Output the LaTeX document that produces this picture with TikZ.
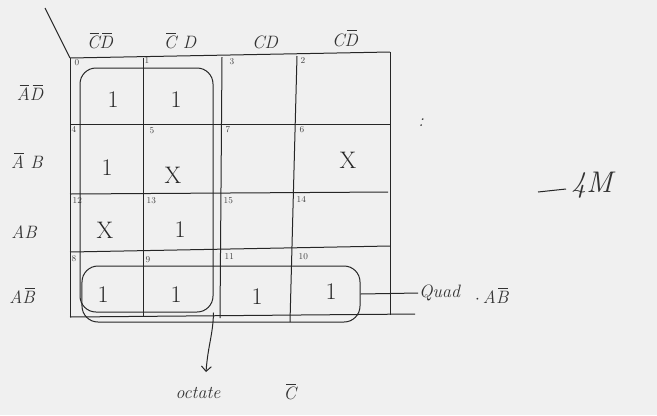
\documentclass[tikz,border=0pt]{standalone}
\usetikzlibrary{arrows.meta}
\newcommand\ob[1]{\ooalign{#1\cr\hidewidth\kern0.12em\rule[0.82em]{0.55em}{0.055em}\hidewidth\cr}}
\begin{document}
\begin{tikzpicture}[x=1bp,y=-1bp,
  pen/.style={draw=black!85, line width=1bp},
  val/.style={font=\fontsize{24}{24}\selectfont, text=black!85, inner sep=1bp},
  idx/.style={font=\fontsize{9}{9}\selectfont, text=black!75, anchor=north west, inner sep=0.5bp},
  lbl/.style={font=\fontsize{18}{18}\selectfont\itshape, text=black!80, inner sep=1bp},
  loopbox/.style={pen, rounded corners=16bp, inner sep=0pt}]
\useasboundingbox[fill=black!6] (0,0) rectangle (657,415);
% grid
\draw[pen] (45,8) -- (70,58);
\draw[pen] (70,58) -- (390,52);
\draw[pen] (70,124) -- (390,124);
\draw[pen] (70,194) -- (388,192);
\draw[pen] (70,252) -- (390,246);
\draw[pen] (70,317) -- (415,314);
\draw[pen] (70,58) -- (70,317);
\draw[pen] (143,58) -- (143,316);
\draw[pen] (222,57) -- (220,318);
\draw[pen] (297,56) -- (290,322);
\draw[pen] (390,52) -- (390,315);
% headers
\node[lbl] (h0) at (100,42) {\ob{C}\ob{D}};
\node[lbl] (h1) at (180,42) {\ob{C} D};
\node[lbl] (h2) at (265,42) {CD};
\node[lbl] (h3) at (345,40) {C\ob{D}};
\node[lbl] (r0) at (30,94) {\ob{A}\ob{D}};
\node[lbl] (r1) at (27,162) {\ob{A} B};
\node[lbl] (r2) at (24,232) {AB};
\node[lbl] (r3) at (22,297) {A\ob{B}};
% cell indices
\node[idx] (i0) at (74,59) {0};
\node[idx] (i1) at (144,57) {1};
\node[idx] (i3) at (229,58) {3};
\node[idx] (i2) at (300,57) {2};
\node[idx] (i4) at (71,126) {4};
\node[idx] (i5) at (149,127) {5};
\node[idx] (i7) at (225,126) {7};
\node[idx] (i6) at (299,126) {6};
\node[idx] (i12) at (72,197) {12};
\node[idx] (i13) at (146,197) {13};
\node[idx] (i15) at (223,197) {15};
\node[idx] (i14) at (296,196) {14};
\node[idx] (i8) at (71,255) {8};
\node[idx] (i9) at (145,256) {9};
\node[idx] (i11) at (224,253) {11};
\node[idx] (i10) at (298,253) {10};
% values
\node[val] (v0) at (113,100) {1};
\node[val] (v1) at (176,100) {1};
\node[val] (v4) at (107,168) {1};
\node[val] (v5) at (173,175) {X};
\node[val] (v6) at (348,160) {X};
\node[val] (v12) at (105,230) {X};
\node[val] (v13) at (180,230) {1};
\node[val] (v8) at (103,295) {1};
\node[val] (v9) at (176,295) {1};
\node[val] (v11) at (257,297) {1};
\node[val] (v10) at (331,292) {1};
% loops
\node[loopbox, minimum width=133bp, minimum height=244bp] (octet) at (146.5,190) {};
\node[loopbox, minimum width=278bp, minimum height=56bp] (quad) at (221,294) {};
% labels
\node[lbl, anchor=west] (quadlbl) at (418,293) {Quad};
\node[lbl, anchor=west] (quadterm) at (474,297) {$\cdot$\,A\ob{B}};
\node[lbl] (octlbl) at (198,393) {octate};
\node[lbl] (octterm) at (290,393) {\ob{C}};
\node[lbl] (colon) at (421,123) {:};
\node[lbl, font=\fontsize{30}{30}\selectfont\itshape] (marks) at (592,185) {4M};
\coordinate (dashL) at (538,192);
\coordinate (dashR) at (566,189);
\draw[pen] (dashL) -- (dashR);
% connectors
\draw[pen] (quad.east) -- (quadlbl.west);
\draw[pen, -{Straight Barb[length=5bp,width=10bp]}] (octet.south east) .. controls (213,335) and (208,345) .. (206,372);
\end{tikzpicture}
\end{document}
